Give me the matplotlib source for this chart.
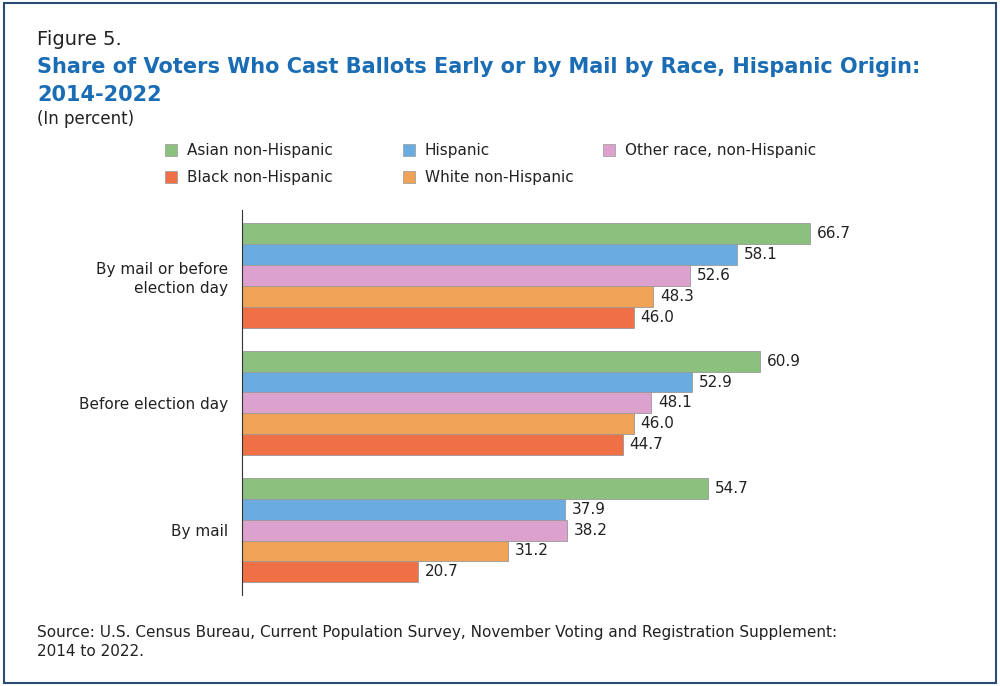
import matplotlib
matplotlib.use("Agg")
import matplotlib.pyplot as plt
from matplotlib.patches import Rectangle
import numpy as np

categories = ["By mail or before\nelection day", "Before election day", "By mail"]
series = ["Asian non-Hispanic", "Hispanic", "Other race, non-Hispanic", "White non-Hispanic", "Black non-Hispanic"]
values = {
    "Asian non-Hispanic": [66.7, 60.9, 54.7],
    "Hispanic": [58.1, 52.9, 37.9],
    "Other race, non-Hispanic": [52.6, 48.1, 38.2],
    "White non-Hispanic": [48.3, 46.0, 31.2],
    "Black non-Hispanic": [46.0, 44.7, 20.7],
}
colors = {
    "Asian non-Hispanic": "#8CC07E",
    "Hispanic": "#6AACE0",
    "Other race, non-Hispanic": "#DDA1CD",
    "White non-Hispanic": "#F0A356",
    "Black non-Hispanic": "#F07046",
}

plt.rcParams['font.family'] = ['DejaVu Sans']
fig = plt.figure(figsize=(10, 6.86), dpi=100)
fig.patches.append(Rectangle((0.004, 0.004), 0.992, 0.992, transform=fig.transFigure,
                             fill=False, edgecolor="#2B4A73", linewidth=1.5))

ax = fig.add_axes([0.242, 0.133, 0.681, 0.561])
pitch = 1.0
gap = 6.1
for i, s in enumerate(series):
    ys = [g * gap + i * pitch for g in range(len(categories))]
    ax.barh(ys, values[s], height=pitch, color=colors[s], edgecolor="#999999", linewidth=0.6)
    for y, v in zip(ys, values[s]):
        ax.text(v + 0.8, y, f"{v:.1f}", va="center", ha="left", fontsize=11, color="#222222")
ax.set_xlim(0, 80)
ax.set_ylim(17.3, -1.15)
ax.set_yticks([g * gap + 2 for g in range(len(categories))])
ax.set_yticklabels(categories, fontsize=11, color="#222222", linespacing=1.3)
ax.tick_params(axis="y", length=0, pad=10)
ax.set_xticks([])
for sp in ["top", "right", "bottom"]:
    ax.spines[sp].set_visible(False)
ax.spines["left"].set_color("#333333")
ax.spines["left"].set_linewidth(0.8)

fig.text(0.037, 0.942, "Figure 5.", fontsize=14, color="#222222", va="center")
fig.text(0.037, 0.903, "Share of Voters Who Cast Ballots Early or by Mail by Race, Hispanic Origin:",
         fontsize=15, color="#1A6DB4", fontweight="bold", va="center")
fig.text(0.037, 0.862, "2014-2022", fontsize=15, color="#1A6DB4", fontweight="bold", va="center")
fig.text(0.037, 0.827, "(In percent)", fontsize=12, color="#222222", va="center")

leg = [("Asian non-Hispanic", 165, 150), ("Hispanic", 403, 150), ("Other race, non-Hispanic", 603, 150),
       ("Black non-Hispanic", 165, 177), ("White non-Hispanic", 403, 177)]
for s, x, y in leg:
    fig.patches.append(Rectangle((x / 1000, 1 - (y + 6) / 686), 12 / 1000, 12 / 686,
                                 transform=fig.transFigure, facecolor=colors[s],
                                 edgecolor="#999999", linewidth=0.5))
    fig.text((x + 22) / 1000, 1 - y / 686, s, fontsize=11, color="#222222", va="center")

fig.text(0.037, 1 - 633 / 686,
         "Source: U.S. Census Bureau, Current Population Survey, November Voting and Registration Supplement:",
         fontsize=11, color="#222222", va="center")
fig.text(0.037, 1 - 652 / 686, "2014 to 2022.", fontsize=11, color="#222222", va="center")

fig.savefig("out.png", dpi=100)
